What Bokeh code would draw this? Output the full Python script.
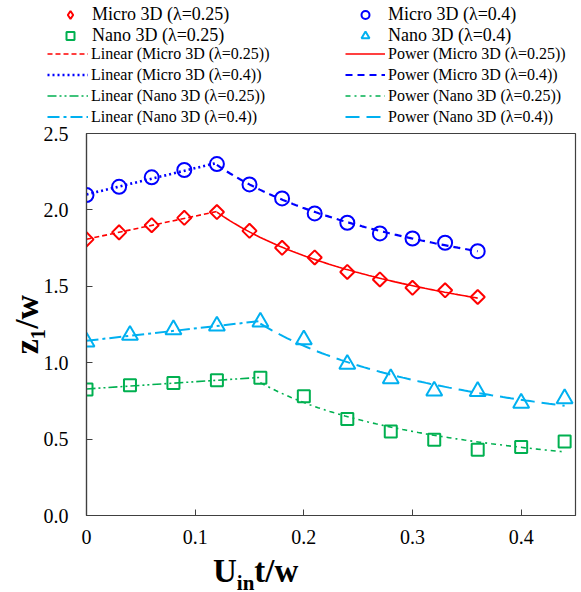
import numpy as np
from bokeh.plotting import figure
from bokeh.layouts import column, row
from bokeh.models import Legend, LegendItem, FixedTicker, Div
from bokeh.embed import file_html
from bokeh.resources import INLINE

# ---------------- data ----------------
x_micro = [0.0, 0.03, 0.06, 0.09, 0.12, 0.15, 0.18, 0.21, 0.24, 0.27, 0.30, 0.33, 0.36]
micro_025 = [1.807, 1.853, 1.900, 1.948, 1.986, 1.863, 1.752, 1.689, 1.594, 1.545, 1.490, 1.474, 1.430]
micro_04 = [2.097, 2.151, 2.213, 2.261, 2.300, 2.167, 2.075, 1.977, 1.916, 1.846, 1.813, 1.785, 1.730]

x_nano = [0.0, 0.04, 0.08, 0.12, 0.16, 0.20, 0.24, 0.28, 0.32, 0.36, 0.40, 0.44]
nano_025 = [0.824, 0.852, 0.867, 0.885, 0.902, 0.780, 0.631, 0.550, 0.496, 0.430, 0.448, 0.485]
nano_04 = [1.136, 1.180, 1.217, 1.241, 1.267, 1.151, 0.990, 0.896, 0.815, 0.813, 0.736, 0.765]

peak_index = 4  # linear trend up to the peak, power trend from the peak on

x_ticks = [0.0, 0.1, 0.2, 0.3, 0.4]
x_tick_labels = ["0", "0.1", "0.2", "0.3", "0.4"]
y_ticks = [0.0, 0.5, 1.0, 1.5, 2.0, 2.5]
y_tick_labels = ["0.0", "0.5", "1.0", "1.5", "2.0", "2.5"]

series_names = ["Micro 3D (λ=0.25)", "Micro 3D (λ=0.4)", "Nano 3D (λ=0.25)", "Nano 3D (λ=0.4)"]
y_title = "z₁/w"
x_title = ("U", "in", "t/w")   # main text, subscript, rest

RED, BLUE, GREEN, CYAN = "#FF0000", "#0000FF", "#00B050", "#00B0F0"
FONT = "Liberation Serif"

W = 581
TOP_H = 125     # legend strip
BOT_H = 40      # x-axis title strip
MAIN_H = 592 - TOP_H - BOT_H

# ---------------- main figure ----------------
p = figure(width=W, height=MAIN_H, output_backend="svg", toolbar_location=None,
           x_range=(0, 0.45), y_range=(0, 2.5),
           min_border_left=86, min_border_right=6, min_border_top=133 - TOP_H, min_border_bottom=37)
p.grid.visible = False
p.background_fill_color = "white"
p.border_fill_color = "white"
p.outline_line_color = "#404040"
p.outline_line_width = 1.2

for ax, ticks, labels in ((p.xaxis[0], x_ticks, x_tick_labels), (p.yaxis[0], y_ticks, y_tick_labels)):
    ax.ticker = FixedTicker(ticks=ticks)
    ax.major_label_overrides = {t: l for t, l in zip(ticks, labels)}
    ax.minor_tick_line_color = None
    ax.major_tick_in = 6
    ax.major_tick_out = 0
    ax.axis_line_color = "#404040"
    ax.axis_line_width = 1.2
    ax.major_tick_line_color = "#404040"
    ax.major_label_text_font = FONT
    ax.major_label_text_font_size = "20px"
    ax.major_label_text_color = "black"
p.xaxis.major_label_standoff = 14
p.yaxis.major_label_standoff = 18
p.yaxis.axis_label = y_title
p.yaxis.axis_label_text_font = FONT
p.yaxis.axis_label_text_font_style = "bold"
p.yaxis.axis_label_text_font_size = "34px"
p.yaxis.axis_label_text_color = "black"
p.yaxis.axis_label_standoff = -4


def linear_fit(xs, ys):
    m, b = np.polyfit(xs, ys, 1)
    xx = np.array([xs[0], xs[-1]])
    return xx, m * xx + b


def power_fit(xs, ys):
    m, b = np.polyfit(np.log(xs), np.log(ys), 1)
    xx = np.linspace(xs[0], xs[-1], 80)
    return xx, np.exp(b) * xx ** m


trend_specs = [
    # (x, y, color, linear dash, linear width, power dash, power width)
    (x_micro, micro_025, RED, "5 3", 1.6, "solid", 1.6),
    (x_micro, micro_04, BLUE, "2 3", 2.6, "7 5", 2.2),
    (x_nano, nano_025, GREEN, "9 3 2 3 2 3", 1.6, "5 4 2 4", 1.6),
    (x_nano, nano_04, CYAN, "12 4 3 4", 2.0, "14 7", 2.0),
]
marker_specs = [
    # (x, y, marker, size, angle, color) -- the red diamond is a square turned by 45 degrees
    (x_micro, micro_025, "square", 10, np.pi / 4, RED),
    (x_micro, micro_04, "circle", 14, 0.0, BLUE),
    (x_nano, nano_025, "square", 12, 0.0, GREEN),
    (x_nano, nano_04, "triangle", 16, 0.0, CYAN),
]


def draw_series(fig, key=False):
    lin_r, pow_r = [], []
    for xs, ys, col, ldash, lw, pdash, pw in trend_specs:
        lx, ly = linear_fit(xs[:peak_index + 1], ys[:peak_index + 1])
        lin_r.append(fig.line(lx, ly, line_color=col, line_dash=ldash, line_width=lw))
        px, py = power_fit(xs[peak_index:], ys[peak_index:])
        pow_r.append(fig.line(px, py, line_color=col, line_dash=pdash, line_width=pw))
    mark_r = []
    for xs, ys, mk, sz, ang, col in marker_specs:
        if key and ang:
            mk, ang = "diamond", 0.0   # legend keys ignore the angle
        mark_r.append(fig.scatter(xs, ys, marker=mk, size=sz, angle=ang,
                                  fill_color=None, line_color=col, line_width=2))
    return lin_r, pow_r, mark_r


draw_series(p)

# ---------------- legend strip: same series, view range set away so only the key shows ----------------
leg = figure(width=W, height=TOP_H, output_backend="svg", toolbar_location=None,
             x_range=(-20, -19), y_range=(-20, -19), x_axis_type=None, y_axis_type=None,
             min_border=0, min_border_left=0, min_border_right=0, min_border_top=0, min_border_bottom=0)
leg.grid.visible = False
leg.outline_line_color = None
lin_k, pow_k, mark_k = draw_series(leg, key=True)


def make_legend(items, x_left, y_bottom, font_size, glyph_w, standoff):
    lg = Legend(items=items, location=(x_left, TOP_H - y_bottom), orientation="vertical",
                label_text_font=FONT, label_text_font_size=font_size, label_text_color="black",
                glyph_width=glyph_w, glyph_height=21, label_height=21,
                label_standoff=standoff, spacing=0, padding=0, margin=0,
                border_line_alpha=0, background_fill_alpha=0)
    leg.add_layout(lg, "center")

make_legend([LegendItem(label=series_names[0], renderers=[mark_k[0]]),
             LegendItem(label=series_names[2], renderers=[mark_k[2]])],
            60, 46, "18px", 20, 12)
make_legend([LegendItem(label=series_names[1], renderers=[mark_k[1]]),
             LegendItem(label=series_names[3], renderers=[mark_k[3]])],
            355, 46, "18px", 20, 13)
make_legend([LegendItem(label="Linear (" + n + ")", renderers=[r]) for n, r in zip(series_names, lin_k)],
            47, 127, "16px", 41, 3)
make_legend([LegendItem(label="Power (" + n + ")", renderers=[r]) for n, r in zip(series_names, pow_k)],
            345, 127, "16px", 40, 3)

# ---------------- x-axis title (with subscript) ----------------
xdiv = Div(width=W, height=BOT_H, margin=0,
           text=('<div style="position:relative;width:%dpx;height:%dpx;overflow:hidden;">'
                 '<span style="position:absolute;left:213px;top:3px;white-space:nowrap;'
                 'font-family:\'%s\';font-weight:bold;font-size:33px;line-height:33px;color:black;">'
                 '%s<span style="font-size:21px;vertical-align:-8px;line-height:0;">%s</span>%s</span></div>')
           % (W, BOT_H, FONT, x_title[0], x_title[1], x_title[2]))

layout = column(row(leg), p, xdiv, spacing=0)
open("out.html", "w").write(file_html(layout, INLINE))
